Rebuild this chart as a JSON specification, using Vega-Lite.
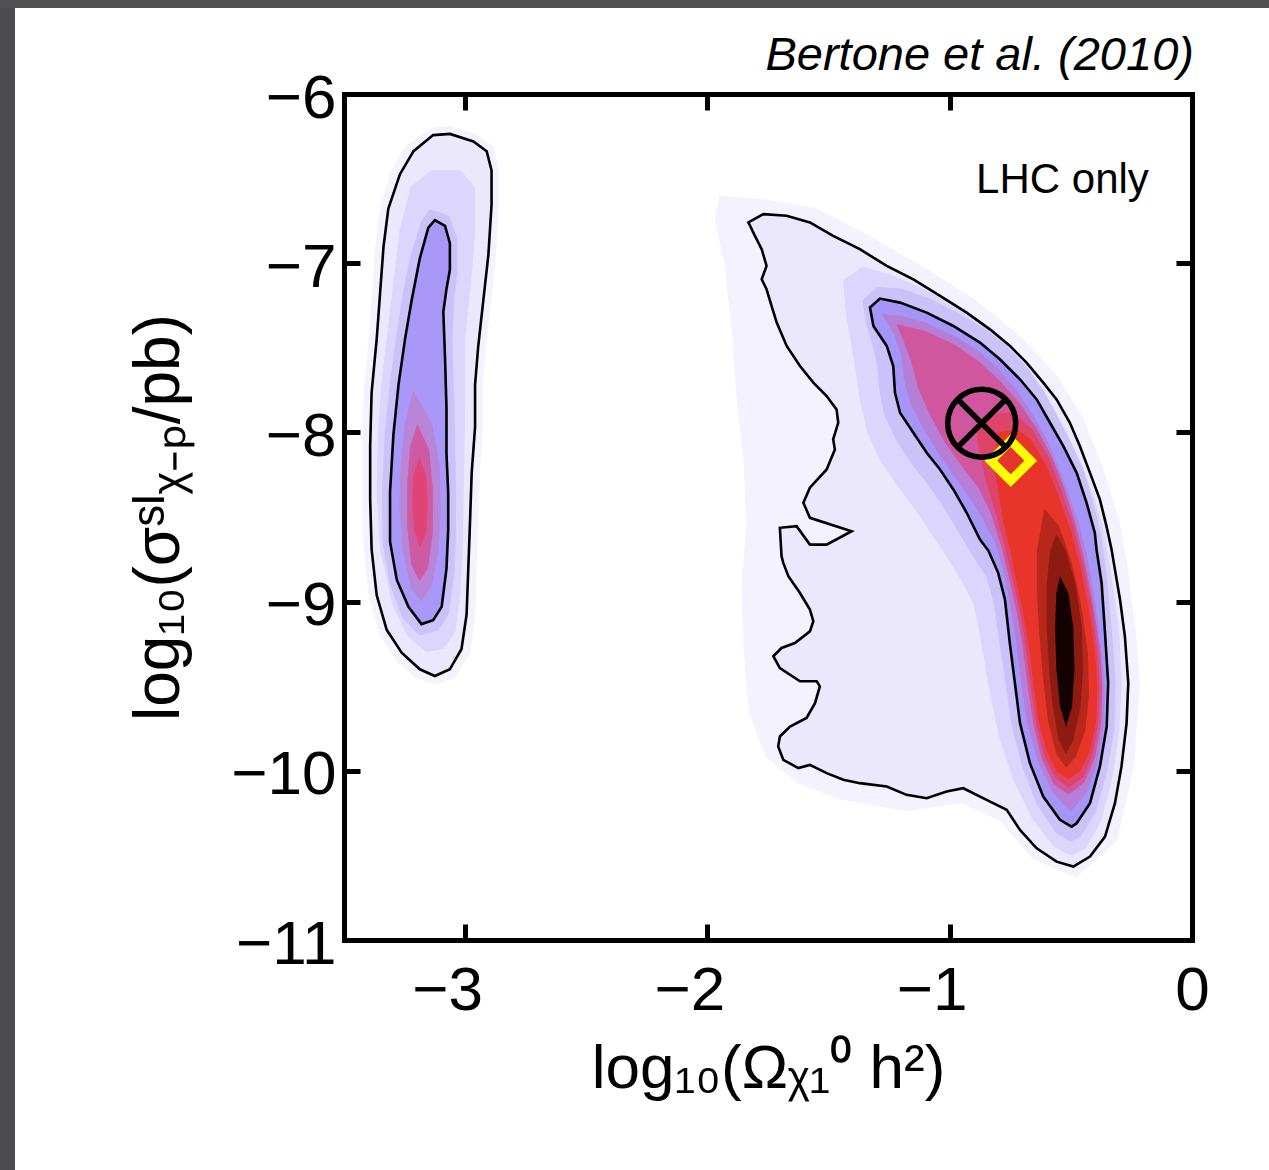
{
"$schema": "https://vega.github.io/schema/vega-lite/v6.json",
"width": 848, "height": 846,
"autosize": {"type": "none"},
"padding": {"left": 344, "top": 94, "right": 77, "bottom": 230},
"background": "white",
"config": {
  "view": {"stroke": null},
  "axis": {"domainColor": "black", "domainWidth": 5, "domainCap": "square", "tickColor": "black", "tickWidth": 5, "tickSize": -16, "labelColor": "black", "labelFont": "Liberation Sans", "labelFontSize": 62, "titleColor": "black", "titleFont": "Liberation Sans", "titleFontSize": 62, "titleFontWeight": "normal", "grid": false, "labelFlush": false, "labelOverlap": false, "labelBound": false}
},
"datasets": {
"poly": [
{"id":"L0","i":0,"x":-3.136,"y":-6.2},{"id":"L0","i":1,"x":-3.058,"y":-6.19},{"id":"L0","i":2,"x":-2.953,"y":-6.24},{"id":"L0","i":3,"x":-2.883,"y":-6.31},{"id":"L0","i":4,"x":-2.861,"y":-6.45},{"id":"L0","i":5,"x":-2.861,"y":-6.65},{"id":"L0","i":6,"x":-2.873,"y":-6.95},{"id":"L0","i":7,"x":-2.892,"y":-7.22},{"id":"L0","i":8,"x":-2.914,"y":-7.5},{"id":"L0","i":9,"x":-2.927,"y":-7.72},{"id":"L0","i":10,"x":-2.927,"y":-7.97},{"id":"L0","i":11,"x":-2.94,"y":-8.24},{"id":"L0","i":12,"x":-2.946,"y":-8.53},{"id":"L0","i":13,"x":-2.953,"y":-8.8},{"id":"L0","i":14,"x":-2.957,"y":-9.08},{"id":"L0","i":15,"x":-2.979,"y":-9.3},{"id":"L0","i":16,"x":-3.04,"y":-9.45},{"id":"L0","i":17,"x":-3.127,"y":-9.49},{"id":"L0","i":18,"x":-3.206,"y":-9.45},{"id":"L0","i":19,"x":-3.284,"y":-9.35},{"id":"L0","i":20,"x":-3.354,"y":-9.19},{"id":"L0","i":21,"x":-3.398,"y":-8.97},{"id":"L0","i":22,"x":-3.419,"y":-8.69},{"id":"L0","i":23,"x":-3.425,"y":-8.4},{"id":"L0","i":24,"x":-3.425,"y":-8.08},{"id":"L0","i":25,"x":-3.419,"y":-7.76},{"id":"L0","i":26,"x":-3.398,"y":-7.44},{"id":"L0","i":27,"x":-3.384,"y":-7.17},{"id":"L0","i":28,"x":-3.371,"y":-6.9},{"id":"L0","i":29,"x":-3.35,"y":-6.66},{"id":"L0","i":30,"x":-3.302,"y":-6.44},{"id":"L0","i":31,"x":-3.241,"y":-6.3},
{"id":"R0","i":0,"x":-1.95,"y":-6.6},{"id":"R0","i":1,"x":-1.78,"y":-6.62},{"id":"R0","i":2,"x":-1.56,"y":-6.67},{"id":"R0","i":3,"x":-1.34,"y":-6.83},{"id":"R0","i":4,"x":-1.11,"y":-7.02},{"id":"R0","i":5,"x":-0.89,"y":-7.22},{"id":"R0","i":6,"x":-0.7,"y":-7.44},{"id":"R0","i":7,"x":-0.56,"y":-7.66},{"id":"R0","i":8,"x":-0.45,"y":-7.91},{"id":"R0","i":9,"x":-0.37,"y":-8.2},{"id":"R0","i":10,"x":-0.3,"y":-8.52},{"id":"R0","i":11,"x":-0.265,"y":-8.8},{"id":"R0","i":12,"x":-0.23,"y":-9.2},{"id":"R0","i":13,"x":-0.215,"y":-9.48},{"id":"R0","i":14,"x":-0.24,"y":-9.98},{"id":"R0","i":15,"x":-0.31,"y":-10.42},{"id":"R0","i":16,"x":-0.48,"y":-10.63},{"id":"R0","i":17,"x":-0.66,"y":-10.52},{"id":"R0","i":18,"x":-0.79,"y":-10.3},{"id":"R0","i":19,"x":-0.95,"y":-10.19},{"id":"R0","i":20,"x":-1.18,"y":-10.24},{"id":"R0","i":21,"x":-1.45,"y":-10.17},{"id":"R0","i":22,"x":-1.62,"y":-10.08},{"id":"R0","i":23,"x":-1.76,"y":-9.92},{"id":"R0","i":24,"x":-1.83,"y":-9.65},{"id":"R0","i":25,"x":-1.85,"y":-9.3},{"id":"R0","i":26,"x":-1.86,"y":-8.9},{"id":"R0","i":27,"x":-1.84,"y":-8.55},{"id":"R0","i":28,"x":-1.85,"y":-8.2},{"id":"R0","i":29,"x":-1.88,"y":-7.8},{"id":"R0","i":30,"x":-1.9,"y":-7.4},{"id":"R0","i":31,"x":-1.93,"y":-7.0},{"id":"R0","i":32,"x":-1.97,"y":-6.75},
{"id":"L1","i":0,"x":-3.132,"y":-6.243},{"id":"L1","i":1,"x":-3.063,"y":-6.236},{"id":"L1","i":2,"x":-2.966,"y":-6.281},{"id":"L1","i":3,"x":-2.911,"y":-6.338},{"id":"L1","i":4,"x":-2.891,"y":-6.451},{"id":"L1","i":5,"x":-2.891,"y":-6.655},{"id":"L1","i":6,"x":-2.904,"y":-6.949},{"id":"L1","i":7,"x":-2.925,"y":-7.22},{"id":"L1","i":8,"x":-2.946,"y":-7.492},{"id":"L1","i":9,"x":-2.959,"y":-7.718},{"id":"L1","i":10,"x":-2.959,"y":-7.967},{"id":"L1","i":11,"x":-2.973,"y":-8.239},{"id":"L1","i":12,"x":-2.98,"y":-8.533},{"id":"L1","i":13,"x":-2.987,"y":-8.804},{"id":"L1","i":14,"x":-2.994,"y":-9.076},{"id":"L1","i":15,"x":-3.015,"y":-9.28},{"id":"L1","i":16,"x":-3.063,"y":-9.4},{"id":"L1","i":17,"x":-3.125,"y":-9.44},{"id":"L1","i":18,"x":-3.187,"y":-9.4},{"id":"L1","i":19,"x":-3.262,"y":-9.302},{"id":"L1","i":20,"x":-3.324,"y":-9.166},{"id":"L1","i":21,"x":-3.365,"y":-8.963},{"id":"L1","i":22,"x":-3.386,"y":-8.691},{"id":"L1","i":23,"x":-3.392,"y":-8.397},{"id":"L1","i":24,"x":-3.392,"y":-8.08},{"id":"L1","i":25,"x":-3.386,"y":-7.763},{"id":"L1","i":26,"x":-3.365,"y":-7.447},{"id":"L1","i":27,"x":-3.351,"y":-7.175},{"id":"L1","i":28,"x":-3.337,"y":-6.904},{"id":"L1","i":29,"x":-3.317,"y":-6.677},{"id":"L1","i":30,"x":-3.269,"y":-6.474},{"id":"L1","i":31,"x":-3.213,"y":-6.338},
{"id":"R1","i":0,"x":-1.831,"y":-6.759},{"id":"R1","i":1,"x":-1.769,"y":-6.71},{"id":"R1","i":2,"x":-1.673,"y":-6.72},{"id":"R1","i":3,"x":-1.577,"y":-6.759},{"id":"R1","i":4,"x":-1.481,"y":-6.838},{"id":"R1","i":5,"x":-1.371,"y":-6.917},{"id":"R1","i":6,"x":-1.26,"y":-7.016},{"id":"R1","i":7,"x":-1.15,"y":-7.095},{"id":"R1","i":8,"x":-1.04,"y":-7.193},{"id":"R1","i":9,"x":-0.93,"y":-7.292},{"id":"R1","i":10,"x":-0.834,"y":-7.391},{"id":"R1","i":11,"x":-0.751,"y":-7.489},{"id":"R1","i":12,"x":-0.683,"y":-7.588},{"id":"R1","i":13,"x":-0.614,"y":-7.706},{"id":"R1","i":14,"x":-0.559,"y":-7.805},{"id":"R1","i":15,"x":-0.504,"y":-7.943},{"id":"R1","i":16,"x":-0.463,"y":-8.081},{"id":"R1","i":17,"x":-0.421,"y":-8.239},{"id":"R1","i":18,"x":-0.38,"y":-8.397},{"id":"R1","i":19,"x":-0.353,"y":-8.554},{"id":"R1","i":20,"x":-0.332,"y":-8.692},{"id":"R1","i":21,"x":-0.318,"y":-8.811},{"id":"R1","i":22,"x":-0.297,"y":-8.988},{"id":"R1","i":23,"x":-0.277,"y":-9.205},{"id":"R1","i":24,"x":-0.263,"y":-9.481},{"id":"R1","i":25,"x":-0.27,"y":-9.718},{"id":"R1","i":26,"x":-0.291,"y":-9.974},{"id":"R1","i":27,"x":-0.318,"y":-10.191},{"id":"R1","i":28,"x":-0.359,"y":-10.389},{"id":"R1","i":29,"x":-0.421,"y":-10.507},{"id":"R1","i":30,"x":-0.49,"y":-10.566},{"id":"R1","i":31,"x":-0.559,"y":-10.537},{"id":"R1","i":32,"x":-0.641,"y":-10.458},{"id":"R1","i":33,"x":-0.71,"y":-10.349},{"id":"R1","i":34,"x":-0.765,"y":-10.231},{"id":"R1","i":35,"x":-0.848,"y":-10.172},{"id":"R1","i":36,"x":-0.944,"y":-10.103},{"id":"R1","i":37,"x":-1.013,"y":-10.122},{"id":"R1","i":38,"x":-1.095,"y":-10.162},{"id":"R1","i":39,"x":-1.178,"y":-10.142},{"id":"R1","i":40,"x":-1.26,"y":-10.093},{"id":"R1","i":41,"x":-1.371,"y":-10.073},{"id":"R1","i":42,"x":-1.439,"y":-10.053},{"id":"R1","i":43,"x":-1.508,"y":-10.014},{"id":"R1","i":44,"x":-1.577,"y":-9.965},{"id":"R1","i":45,"x":-1.625,"y":-9.984},{"id":"R1","i":46,"x":-1.687,"y":-9.935},{"id":"R1","i":47,"x":-1.708,"y":-9.856},{"id":"R1","i":48,"x":-1.701,"y":-9.797},{"id":"R1","i":49,"x":-1.659,"y":-9.738},{"id":"R1","i":50,"x":-1.591,"y":-9.688},{"id":"R1","i":51,"x":-1.556,"y":-9.6},{"id":"R1","i":52,"x":-1.536,"y":-9.501},{"id":"R1","i":53,"x":-1.549,"y":-9.471},{"id":"R1","i":54,"x":-1.618,"y":-9.471},{"id":"R1","i":55,"x":-1.701,"y":-9.393},{"id":"R1","i":56,"x":-1.728,"y":-9.323},{"id":"R1","i":57,"x":-1.694,"y":-9.274},{"id":"R1","i":58,"x":-1.639,"y":-9.245},{"id":"R1","i":59,"x":-1.577,"y":-9.176},{"id":"R1","i":60,"x":-1.563,"y":-9.116},{"id":"R1","i":61,"x":-1.577,"y":-9.047},{"id":"R1","i":62,"x":-1.618,"y":-8.949},{"id":"R1","i":63,"x":-1.666,"y":-8.85},{"id":"R1","i":64,"x":-1.687,"y":-8.771},{"id":"R1","i":65,"x":-1.694,"y":-8.732},{"id":"R1","i":66,"x":-1.701,"y":-8.564},{"id":"R1","i":67,"x":-1.632,"y":-8.554},{"id":"R1","i":68,"x":-1.577,"y":-8.663},{"id":"R1","i":69,"x":-1.508,"y":-8.663},{"id":"R1","i":70,"x":-1.405,"y":-8.584},{"id":"R1","i":71,"x":-1.577,"y":-8.505},{"id":"R1","i":72,"x":-1.604,"y":-8.416},{"id":"R1","i":73,"x":-1.577,"y":-8.327},{"id":"R1","i":74,"x":-1.508,"y":-8.219},{"id":"R1","i":75,"x":-1.474,"y":-8.101},{"id":"R1","i":76,"x":-1.481,"y":-8.041},{"id":"R1","i":77,"x":-1.46,"y":-7.943},{"id":"R1","i":78,"x":-1.467,"y":-7.864},{"id":"R1","i":79,"x":-1.508,"y":-7.785},{"id":"R1","i":80,"x":-1.563,"y":-7.706},{"id":"R1","i":81,"x":-1.618,"y":-7.608},{"id":"R1","i":82,"x":-1.673,"y":-7.489},{"id":"R1","i":83,"x":-1.714,"y":-7.351},{"id":"R1","i":84,"x":-1.735,"y":-7.253},{"id":"R1","i":85,"x":-1.756,"y":-7.154},{"id":"R1","i":86,"x":-1.776,"y":-7.095},{"id":"R1","i":87,"x":-1.756,"y":-7.016},{"id":"R1","i":88,"x":-1.776,"y":-6.917},{"id":"R1","i":89,"x":-1.804,"y":-6.838},{"id":"R1","i":90,"x":-1.824,"y":-6.779},
{"id":"L1b","i":0,"x":-3.14,"y":-6.45},{"id":"L1b","i":1,"x":-3.02,"y":-6.45},{"id":"L1b","i":2,"x":-2.96,"y":-6.55},{"id":"L1b","i":3,"x":-2.96,"y":-6.85},{"id":"L1b","i":4,"x":-2.975,"y":-7.1},{"id":"L1b","i":5,"x":-3.0,"y":-7.45},{"id":"L1b","i":6,"x":-3.0,"y":-7.85},{"id":"L1b","i":7,"x":-3.005,"y":-8.3},{"id":"L1b","i":8,"x":-3.01,"y":-8.7},{"id":"L1b","i":9,"x":-3.02,"y":-8.95},{"id":"L1b","i":10,"x":-3.04,"y":-9.18},{"id":"L1b","i":11,"x":-3.09,"y":-9.28},{"id":"L1b","i":12,"x":-3.16,"y":-9.3},{"id":"L1b","i":13,"x":-3.24,"y":-9.2},{"id":"L1b","i":14,"x":-3.3,"y":-9.02},{"id":"L1b","i":15,"x":-3.35,"y":-8.7},{"id":"L1b","i":16,"x":-3.365,"y":-8.35},{"id":"L1b","i":17,"x":-3.36,"y":-8.0},{"id":"L1b","i":18,"x":-3.345,"y":-7.7},{"id":"L1b","i":19,"x":-3.32,"y":-7.4},{"id":"L1b","i":20,"x":-3.295,"y":-7.1},{"id":"L1b","i":21,"x":-3.27,"y":-6.8},{"id":"L1b","i":22,"x":-3.225,"y":-6.55},
{"id":"R1b","i":0,"x":-1.44,"y":-7.1},{"id":"R1b","i":1,"x":-1.36,"y":-7.02},{"id":"R1b","i":2,"x":-1.24,"y":-7.07},{"id":"R1b","i":3,"x":-1.11,"y":-7.15},{"id":"R1b","i":4,"x":-0.99,"y":-7.25},{"id":"R1b","i":5,"x":-0.87,"y":-7.36},{"id":"R1b","i":6,"x":-0.78,"y":-7.46},{"id":"R1b","i":7,"x":-0.69,"y":-7.59},{"id":"R1b","i":8,"x":-0.625,"y":-7.72},{"id":"R1b","i":9,"x":-0.57,"y":-7.86},{"id":"R1b","i":10,"x":-0.515,"y":-8.02},{"id":"R1b","i":11,"x":-0.455,"y":-8.19},{"id":"R1b","i":12,"x":-0.4,"y":-8.4},{"id":"R1b","i":13,"x":-0.36,"y":-8.6},{"id":"R1b","i":14,"x":-0.33,"y":-8.87},{"id":"R1b","i":15,"x":-0.3,"y":-9.18},{"id":"R1b","i":16,"x":-0.29,"y":-9.48},{"id":"R1b","i":17,"x":-0.3,"y":-9.76},{"id":"R1b","i":18,"x":-0.325,"y":-10.02},{"id":"R1b","i":19,"x":-0.375,"y":-10.3},{"id":"R1b","i":20,"x":-0.44,"y":-10.46},{"id":"R1b","i":21,"x":-0.5,"y":-10.5},{"id":"R1b","i":22,"x":-0.57,"y":-10.45},{"id":"R1b","i":23,"x":-0.66,"y":-10.28},{"id":"R1b","i":24,"x":-0.74,"y":-10.05},{"id":"R1b","i":25,"x":-0.8,"y":-9.78},{"id":"R1b","i":26,"x":-0.84,"y":-9.5},{"id":"R1b","i":27,"x":-0.87,"y":-9.24},{"id":"R1b","i":28,"x":-0.9,"y":-9.02},{"id":"R1b","i":29,"x":-0.95,"y":-8.88},{"id":"R1b","i":30,"x":-1.02,"y":-8.72},{"id":"R1b","i":31,"x":-1.09,"y":-8.57},{"id":"R1b","i":32,"x":-1.15,"y":-8.44},{"id":"R1b","i":33,"x":-1.22,"y":-8.31},{"id":"R1b","i":34,"x":-1.29,"y":-8.16},{"id":"R1b","i":35,"x":-1.34,"y":-8.0},{"id":"R1b","i":36,"x":-1.37,"y":-7.82},{"id":"R1b","i":37,"x":-1.39,"y":-7.62},{"id":"R1b","i":38,"x":-1.41,"y":-7.45},{"id":"R1b","i":39,"x":-1.43,"y":-7.28},
{"id":"L2","i":0,"x":-3.145,"y":-6.68},{"id":"L2","i":1,"x":-3.066,"y":-6.72},{"id":"L2","i":2,"x":-3.031,"y":-6.86},{"id":"L2","i":3,"x":-3.031,"y":-7.05},{"id":"L2","i":4,"x":-3.044,"y":-7.2},{"id":"L2","i":5,"x":-3.053,"y":-7.45},{"id":"L2","i":6,"x":-3.044,"y":-7.85},{"id":"L2","i":7,"x":-3.038,"y":-8.35},{"id":"L2","i":8,"x":-3.038,"y":-8.6},{"id":"L2","i":9,"x":-3.044,"y":-8.82},{"id":"L2","i":10,"x":-3.066,"y":-9.07},{"id":"L2","i":11,"x":-3.11,"y":-9.17},{"id":"L2","i":12,"x":-3.188,"y":-9.2},{"id":"L2","i":13,"x":-3.258,"y":-9.1},{"id":"L2","i":14,"x":-3.31,"y":-8.9},{"id":"L2","i":15,"x":-3.341,"y":-8.65},{"id":"L2","i":16,"x":-3.343,"y":-8.35},{"id":"L2","i":17,"x":-3.332,"y":-8.0},{"id":"L2","i":18,"x":-3.31,"y":-7.7},{"id":"L2","i":19,"x":-3.284,"y":-7.43},{"id":"L2","i":20,"x":-3.258,"y":-7.18},{"id":"L2","i":21,"x":-3.223,"y":-6.94},{"id":"L2","i":22,"x":-3.18,"y":-6.75},
{"id":"R2","i":0,"x":-1.36,"y":-7.22},{"id":"R2","i":1,"x":-1.3,"y":-7.14},{"id":"R2","i":2,"x":-1.2,"y":-7.15},{"id":"R2","i":3,"x":-1.08,"y":-7.21},{"id":"R2","i":4,"x":-0.97,"y":-7.29},{"id":"R2","i":5,"x":-0.85,"y":-7.39},{"id":"R2","i":6,"x":-0.765,"y":-7.49},{"id":"R2","i":7,"x":-0.68,"y":-7.62},{"id":"R2","i":8,"x":-0.615,"y":-7.75},{"id":"R2","i":9,"x":-0.56,"y":-7.89},{"id":"R2","i":10,"x":-0.505,"y":-8.04},{"id":"R2","i":11,"x":-0.45,"y":-8.21},{"id":"R2","i":12,"x":-0.41,"y":-8.4},{"id":"R2","i":13,"x":-0.375,"y":-8.6},{"id":"R2","i":14,"x":-0.35,"y":-8.87},{"id":"R2","i":15,"x":-0.33,"y":-9.18},{"id":"R2","i":16,"x":-0.315,"y":-9.48},{"id":"R2","i":17,"x":-0.32,"y":-9.75},{"id":"R2","i":18,"x":-0.35,"y":-10.0},{"id":"R2","i":19,"x":-0.395,"y":-10.24},{"id":"R2","i":20,"x":-0.46,"y":-10.39},{"id":"R2","i":21,"x":-0.5,"y":-10.42},{"id":"R2","i":22,"x":-0.56,"y":-10.37},{"id":"R2","i":23,"x":-0.64,"y":-10.2},{"id":"R2","i":24,"x":-0.7,"y":-9.98},{"id":"R2","i":25,"x":-0.745,"y":-9.73},{"id":"R2","i":26,"x":-0.77,"y":-9.48},{"id":"R2","i":27,"x":-0.795,"y":-9.24},{"id":"R2","i":28,"x":-0.82,"y":-9.0},{"id":"R2","i":29,"x":-0.85,"y":-8.85},{"id":"R2","i":30,"x":-0.91,"y":-8.72},{"id":"R2","i":31,"x":-0.98,"y":-8.55},{"id":"R2","i":32,"x":-1.04,"y":-8.41},{"id":"R2","i":33,"x":-1.1,"y":-8.29},{"id":"R2","i":34,"x":-1.16,"y":-8.18},{"id":"R2","i":35,"x":-1.22,"y":-8.05},{"id":"R2","i":36,"x":-1.27,"y":-7.9},{"id":"R2","i":37,"x":-1.29,"y":-7.76},{"id":"R2","i":38,"x":-1.3,"y":-7.6},{"id":"R2","i":39,"x":-1.32,"y":-7.48},{"id":"R2","i":40,"x":-1.345,"y":-7.36},
{"id":"L3","i":0,"x":-3.125,"y":-6.745},{"id":"L3","i":1,"x":-3.083,"y":-6.779},{"id":"L3","i":2,"x":-3.063,"y":-6.881},{"id":"L3","i":3,"x":-3.063,"y":-7.039},{"id":"L3","i":4,"x":-3.077,"y":-7.152},{"id":"L3","i":5,"x":-3.09,"y":-7.288},{"id":"L3","i":6,"x":-3.083,"y":-7.56},{"id":"L3","i":7,"x":-3.077,"y":-7.854},{"id":"L3","i":8,"x":-3.077,"y":-8.126},{"id":"L3","i":9,"x":-3.07,"y":-8.352},{"id":"L3","i":10,"x":-3.07,"y":-8.578},{"id":"L3","i":11,"x":-3.077,"y":-8.805},{"id":"L3","i":12,"x":-3.097,"y":-9.031},{"id":"L3","i":13,"x":-3.132,"y":-9.11},{"id":"L3","i":14,"x":-3.18,"y":-9.133},{"id":"L3","i":15,"x":-3.234,"y":-9.031},{"id":"L3","i":16,"x":-3.282,"y":-8.872},{"id":"L3","i":17,"x":-3.31,"y":-8.646},{"id":"L3","i":18,"x":-3.31,"y":-8.352},{"id":"L3","i":19,"x":-3.296,"y":-8.012},{"id":"L3","i":20,"x":-3.275,"y":-7.718},{"id":"L3","i":21,"x":-3.248,"y":-7.447},{"id":"L3","i":22,"x":-3.221,"y":-7.22},{"id":"L3","i":23,"x":-3.187,"y":-6.971},{"id":"L3","i":24,"x":-3.152,"y":-6.79},
{"id":"R3","i":0,"x":-1.329,"y":-7.262},{"id":"R3","i":1,"x":-1.288,"y":-7.209},{"id":"R3","i":2,"x":-1.205,"y":-7.233},{"id":"R3","i":3,"x":-1.095,"y":-7.292},{"id":"R3","i":4,"x":-0.985,"y":-7.371},{"id":"R3","i":5,"x":-0.875,"y":-7.469},{"id":"R3","i":6,"x":-0.793,"y":-7.568},{"id":"R3","i":7,"x":-0.71,"y":-7.686},{"id":"R3","i":8,"x":-0.641,"y":-7.805},{"id":"R3","i":9,"x":-0.586,"y":-7.943},{"id":"R3","i":10,"x":-0.531,"y":-8.081},{"id":"R3","i":11,"x":-0.476,"y":-8.239},{"id":"R3","i":12,"x":-0.435,"y":-8.416},{"id":"R3","i":13,"x":-0.401,"y":-8.594},{"id":"R3","i":14,"x":-0.394,"y":-8.692},{"id":"R3","i":15,"x":-0.373,"y":-8.89},{"id":"R3","i":16,"x":-0.359,"y":-9.185},{"id":"R3","i":17,"x":-0.346,"y":-9.481},{"id":"R3","i":18,"x":-0.352,"y":-9.738},{"id":"R3","i":19,"x":-0.38,"y":-9.974},{"id":"R3","i":20,"x":-0.421,"y":-10.191},{"id":"R3","i":21,"x":-0.476,"y":-10.31},{"id":"R3","i":22,"x":-0.497,"y":-10.33},{"id":"R3","i":23,"x":-0.545,"y":-10.29},{"id":"R3","i":24,"x":-0.614,"y":-10.152},{"id":"R3","i":25,"x":-0.669,"y":-9.955},{"id":"R3","i":26,"x":-0.71,"y":-9.718},{"id":"R3","i":27,"x":-0.731,"y":-9.481},{"id":"R3","i":28,"x":-0.752,"y":-9.245},{"id":"R3","i":29,"x":-0.772,"y":-8.988},{"id":"R3","i":30,"x":-0.8,"y":-8.83},{"id":"R3","i":31,"x":-0.84,"y":-8.7},{"id":"R3","i":32,"x":-0.875,"y":-8.633},{"id":"R3","i":33,"x":-0.93,"y":-8.475},{"id":"R3","i":34,"x":-0.985,"y":-8.337},{"id":"R3","i":35,"x":-1.04,"y":-8.219},{"id":"R3","i":36,"x":-1.095,"y":-8.12},{"id":"R3","i":37,"x":-1.15,"y":-8.002},{"id":"R3","i":38,"x":-1.205,"y":-7.884},{"id":"R3","i":39,"x":-1.226,"y":-7.765},{"id":"R3","i":40,"x":-1.233,"y":-7.608},{"id":"R3","i":41,"x":-1.26,"y":-7.489},{"id":"R3","i":42,"x":-1.315,"y":-7.371},
{"id":"L4","i":0,"x":-3.214,"y":-7.75},{"id":"L4","i":1,"x":-3.136,"y":-7.95},{"id":"L4","i":2,"x":-3.105,"y":-8.2},{"id":"L4","i":3,"x":-3.101,"y":-8.45},{"id":"L4","i":4,"x":-3.11,"y":-8.7},{"id":"L4","i":5,"x":-3.136,"y":-8.9},{"id":"L4","i":6,"x":-3.18,"y":-9.0},{"id":"L4","i":7,"x":-3.223,"y":-8.92},{"id":"L4","i":8,"x":-3.258,"y":-8.7},{"id":"L4","i":9,"x":-3.271,"y":-8.45},{"id":"L4","i":10,"x":-3.267,"y":-8.2},{"id":"L4","i":11,"x":-3.249,"y":-7.95},
{"id":"R4","i":0,"x":-1.28,"y":-7.3},{"id":"R4","i":1,"x":-1.2,"y":-7.31},{"id":"R4","i":2,"x":-1.1,"y":-7.35},{"id":"R4","i":3,"x":-0.98,"y":-7.43},{"id":"R4","i":4,"x":-0.88,"y":-7.52},{"id":"R4","i":5,"x":-0.795,"y":-7.63},{"id":"R4","i":6,"x":-0.72,"y":-7.76},{"id":"R4","i":7,"x":-0.655,"y":-7.9},{"id":"R4","i":8,"x":-0.6,"y":-8.04},{"id":"R4","i":9,"x":-0.555,"y":-8.19},{"id":"R4","i":10,"x":-0.51,"y":-8.36},{"id":"R4","i":11,"x":-0.465,"y":-8.55},{"id":"R4","i":12,"x":-0.43,"y":-8.75},{"id":"R4","i":13,"x":-0.4,"y":-9.0},{"id":"R4","i":14,"x":-0.375,"y":-9.28},{"id":"R4","i":15,"x":-0.36,"y":-9.5},{"id":"R4","i":16,"x":-0.365,"y":-9.73},{"id":"R4","i":17,"x":-0.39,"y":-9.95},{"id":"R4","i":18,"x":-0.435,"y":-10.13},{"id":"R4","i":19,"x":-0.5,"y":-10.24},{"id":"R4","i":20,"x":-0.57,"y":-10.14},{"id":"R4","i":21,"x":-0.635,"y":-9.95},{"id":"R4","i":22,"x":-0.68,"y":-9.72},{"id":"R4","i":23,"x":-0.705,"y":-9.48},{"id":"R4","i":24,"x":-0.725,"y":-9.25},{"id":"R4","i":25,"x":-0.75,"y":-9.02},{"id":"R4","i":26,"x":-0.775,"y":-8.84},{"id":"R4","i":27,"x":-0.81,"y":-8.66},{"id":"R4","i":28,"x":-0.86,"y":-8.52},{"id":"R4","i":29,"x":-0.92,"y":-8.38},{"id":"R4","i":30,"x":-0.98,"y":-8.26},{"id":"R4","i":31,"x":-1.04,"y":-8.14},{"id":"R4","i":32,"x":-1.1,"y":-8.0},{"id":"R4","i":33,"x":-1.16,"y":-7.84},{"id":"R4","i":34,"x":-1.19,"y":-7.68},{"id":"R4","i":35,"x":-1.2,"y":-7.54},{"id":"R4","i":36,"x":-1.23,"y":-7.42},
{"id":"L5","i":0,"x":-3.197,"y":-7.95},{"id":"L5","i":1,"x":-3.149,"y":-8.1},{"id":"L5","i":2,"x":-3.132,"y":-8.35},{"id":"L5","i":3,"x":-3.134,"y":-8.6},{"id":"L5","i":4,"x":-3.153,"y":-8.8},{"id":"L5","i":5,"x":-3.188,"y":-8.88},{"id":"L5","i":6,"x":-3.223,"y":-8.78},{"id":"L5","i":7,"x":-3.239,"y":-8.55},{"id":"L5","i":8,"x":-3.239,"y":-8.3},{"id":"L5","i":9,"x":-3.227,"y":-8.08},
{"id":"R5","i":0,"x":-1.22,"y":-7.36},{"id":"R5","i":1,"x":-1.1,"y":-7.4},{"id":"R5","i":2,"x":-0.98,"y":-7.48},{"id":"R5","i":3,"x":-0.88,"y":-7.58},{"id":"R5","i":4,"x":-0.79,"y":-7.7},{"id":"R5","i":5,"x":-0.71,"y":-7.83},{"id":"R5","i":6,"x":-0.64,"y":-7.98},{"id":"R5","i":7,"x":-0.58,"y":-8.14},{"id":"R5","i":8,"x":-0.53,"y":-8.32},{"id":"R5","i":9,"x":-0.485,"y":-8.52},{"id":"R5","i":10,"x":-0.445,"y":-8.75},{"id":"R5","i":11,"x":-0.41,"y":-9.0},{"id":"R5","i":12,"x":-0.38,"y":-9.28},{"id":"R5","i":13,"x":-0.37,"y":-9.5},{"id":"R5","i":14,"x":-0.375,"y":-9.72},{"id":"R5","i":15,"x":-0.4,"y":-9.92},{"id":"R5","i":16,"x":-0.445,"y":-10.07},{"id":"R5","i":17,"x":-0.51,"y":-10.14},{"id":"R5","i":18,"x":-0.57,"y":-10.08},{"id":"R5","i":19,"x":-0.62,"y":-9.93},{"id":"R5","i":20,"x":-0.655,"y":-9.72},{"id":"R5","i":21,"x":-0.68,"y":-9.48},{"id":"R5","i":22,"x":-0.7,"y":-9.25},{"id":"R5","i":23,"x":-0.725,"y":-9.05},{"id":"R5","i":24,"x":-0.755,"y":-8.86},{"id":"R5","i":25,"x":-0.79,"y":-8.66},{"id":"R5","i":26,"x":-0.83,"y":-8.48},{"id":"R5","i":27,"x":-0.88,"y":-8.33},{"id":"R5","i":28,"x":-0.95,"y":-8.2},{"id":"R5","i":29,"x":-1.02,"y":-8.06},{"id":"R5","i":30,"x":-1.08,"y":-7.9},{"id":"R5","i":31,"x":-1.13,"y":-7.74},{"id":"R5","i":32,"x":-1.16,"y":-7.58},{"id":"R5","i":33,"x":-1.19,"y":-7.46},
{"id":"L6","i":0,"x":-3.188,"y":-8.15},{"id":"L6","i":1,"x":-3.162,"y":-8.25},{"id":"L6","i":2,"x":-3.153,"y":-8.42},{"id":"L6","i":3,"x":-3.162,"y":-8.6},{"id":"L6","i":4,"x":-3.188,"y":-8.68},{"id":"L6","i":5,"x":-3.21,"y":-8.58},{"id":"L6","i":6,"x":-3.219,"y":-8.42},{"id":"L6","i":7,"x":-3.214,"y":-8.25},
{"id":"R5b","i":0,"x":-0.86,"y":-7.9},{"id":"R5b","i":1,"x":-0.74,"y":-7.88},{"id":"R5b","i":2,"x":-0.66,"y":-7.98},{"id":"R5b","i":3,"x":-0.59,"y":-8.15},{"id":"R5b","i":4,"x":-0.54,"y":-8.34},{"id":"R5b","i":5,"x":-0.49,"y":-8.55},{"id":"R5b","i":6,"x":-0.45,"y":-8.78},{"id":"R5b","i":7,"x":-0.415,"y":-9.02},{"id":"R5b","i":8,"x":-0.39,"y":-9.29},{"id":"R5b","i":9,"x":-0.38,"y":-9.5},{"id":"R5b","i":10,"x":-0.385,"y":-9.71},{"id":"R5b","i":11,"x":-0.41,"y":-9.9},{"id":"R5b","i":12,"x":-0.45,"y":-10.04},{"id":"R5b","i":13,"x":-0.51,"y":-10.1},{"id":"R5b","i":14,"x":-0.565,"y":-10.04},{"id":"R5b","i":15,"x":-0.61,"y":-9.91},{"id":"R5b","i":16,"x":-0.645,"y":-9.71},{"id":"R5b","i":17,"x":-0.668,"y":-9.48},{"id":"R5b","i":18,"x":-0.688,"y":-9.25},{"id":"R5b","i":19,"x":-0.712,"y":-9.05},{"id":"R5b","i":20,"x":-0.74,"y":-8.87},{"id":"R5b","i":21,"x":-0.77,"y":-8.69},{"id":"R5b","i":22,"x":-0.805,"y":-8.5},{"id":"R5b","i":23,"x":-0.84,"y":-8.34},{"id":"R5b","i":24,"x":-0.87,"y":-8.18},{"id":"R5b","i":25,"x":-0.89,"y":-8.02},
{"id":"R6","i":0,"x":-0.8,"y":-8.0},{"id":"R6","i":1,"x":-0.72,"y":-7.98},{"id":"R6","i":2,"x":-0.66,"y":-8.05},{"id":"R6","i":3,"x":-0.6,"y":-8.2},{"id":"R6","i":4,"x":-0.55,"y":-8.38},{"id":"R6","i":5,"x":-0.5,"y":-8.58},{"id":"R6","i":6,"x":-0.46,"y":-8.8},{"id":"R6","i":7,"x":-0.425,"y":-9.05},{"id":"R6","i":8,"x":-0.4,"y":-9.3},{"id":"R6","i":9,"x":-0.39,"y":-9.5},{"id":"R6","i":10,"x":-0.395,"y":-9.7},{"id":"R6","i":11,"x":-0.42,"y":-9.88},{"id":"R6","i":12,"x":-0.46,"y":-10.0},{"id":"R6","i":13,"x":-0.51,"y":-10.05},{"id":"R6","i":14,"x":-0.56,"y":-10.0},{"id":"R6","i":15,"x":-0.6,"y":-9.88},{"id":"R6","i":16,"x":-0.635,"y":-9.7},{"id":"R6","i":17,"x":-0.655,"y":-9.48},{"id":"R6","i":18,"x":-0.675,"y":-9.25},{"id":"R6","i":19,"x":-0.7,"y":-9.05},{"id":"R6","i":20,"x":-0.725,"y":-8.88},{"id":"R6","i":21,"x":-0.75,"y":-8.7},{"id":"R6","i":22,"x":-0.78,"y":-8.52},{"id":"R6","i":23,"x":-0.8,"y":-8.34},{"id":"R6","i":24,"x":-0.82,"y":-8.18},
{"id":"R6b","i":0,"x":-0.61,"y":-8.45},{"id":"R6b","i":1,"x":-0.55,"y":-8.55},{"id":"R6b","i":2,"x":-0.5,"y":-8.75},{"id":"R6b","i":3,"x":-0.46,"y":-9.0},{"id":"R6b","i":4,"x":-0.43,"y":-9.3},{"id":"R6b","i":5,"x":-0.425,"y":-9.55},{"id":"R6b","i":6,"x":-0.44,"y":-9.76},{"id":"R6b","i":7,"x":-0.48,"y":-9.92},{"id":"R6b","i":8,"x":-0.52,"y":-9.98},{"id":"R6b","i":9,"x":-0.56,"y":-9.9},{"id":"R6b","i":10,"x":-0.595,"y":-9.7},{"id":"R6b","i":11,"x":-0.615,"y":-9.45},{"id":"R6b","i":12,"x":-0.63,"y":-9.2},{"id":"R6b","i":13,"x":-0.64,"y":-8.95},{"id":"R6b","i":14,"x":-0.64,"y":-8.7},
{"id":"R7","i":0,"x":-0.56,"y":-8.6},{"id":"R7","i":1,"x":-0.52,"y":-8.7},{"id":"R7","i":2,"x":-0.48,"y":-8.9},{"id":"R7","i":3,"x":-0.455,"y":-9.15},{"id":"R7","i":4,"x":-0.45,"y":-9.4},{"id":"R7","i":5,"x":-0.46,"y":-9.62},{"id":"R7","i":6,"x":-0.49,"y":-9.82},{"id":"R7","i":7,"x":-0.52,"y":-9.9},{"id":"R7","i":8,"x":-0.55,"y":-9.82},{"id":"R7","i":9,"x":-0.575,"y":-9.62},{"id":"R7","i":10,"x":-0.59,"y":-9.4},{"id":"R7","i":11,"x":-0.6,"y":-9.15},{"id":"R7","i":12,"x":-0.6,"y":-8.9},{"id":"R7","i":13,"x":-0.585,"y":-8.7},
{"id":"R8","i":0,"x":-0.545,"y":-8.85},{"id":"R8","i":1,"x":-0.51,"y":-8.95},{"id":"R8","i":2,"x":-0.49,"y":-9.15},{"id":"R8","i":3,"x":-0.485,"y":-9.4},{"id":"R8","i":4,"x":-0.495,"y":-9.62},{"id":"R8","i":5,"x":-0.52,"y":-9.74},{"id":"R8","i":6,"x":-0.545,"y":-9.62},{"id":"R8","i":7,"x":-0.56,"y":-9.4},{"id":"R8","i":8,"x":-0.565,"y":-9.15},{"id":"R8","i":9,"x":-0.56,"y":-8.95}
]
},
"layer": [
{
  "data": {"values": [{}]},
  "mark": {"type": "rect", "color": "#4c4c4e"},
  "encoding": {
    "x": {"datum": -5.0, "type": "quantitative", "scale": {"domain": [-3.5, 0], "nice": false, "zero": false}, "axis": null},
    "x2": {"datum": -4.858},
    "y": {"datum": -5.4, "type": "quantitative", "scale": {"domain": [-11, -6], "nice": false, "zero": false}, "axis": null},
    "y2": {"datum": -12.6}
  }
},
{
  "data": {"values": [{}]},
  "mark": {"type": "rect", "color": "#505052"},
  "encoding": {
    "x": {"datum": -5.0, "type": "quantitative", "axis": null},
    "x2": {"datum": 0.6},
    "y": {"datum": -5.4, "type": "quantitative", "axis": null},
    "y2": {"datum": -5.4917}
  }
},
{
  "data": {"name": "poly"},
  "mark": {"type": "line", "interpolate": "linear-closed", "strokeWidth": 0, "strokeOpacity": 0},
  "encoding": {
    "x": {"field": "x", "type": "quantitative", "scale": {"domain": [-3.5, 0], "nice": false, "zero": false},
      "axis": {"orient": "bottom", "zindex": 1, "values": [-3, -2, -1, 0], "format": "d", "labelPadding": 36, "labelOffset": {"condition": {"test": "datum.value < 0", "value": -18}, "value": 0}, "title": "log₁₀(Ωᵪ₁⁰ h²)", "titleY": 147, "titleBaseline": "alphabetic"}},
    "y": {"field": "y", "type": "quantitative", "scale": {"domain": [-11, -6], "nice": false, "zero": false},
      "axis": {"orient": "left", "zindex": 1, "values": [-11, -10, -9, -8, -7, -6], "format": "d", "labelPadding": 24, "labelOffset": 4, "title": "log₁₀(σˢᴵᵪ₋ₚ/pb)", "titleX": -166, "titleBaseline": "alphabetic", "titleAngle": -90, "titleFontSize": 64}},
    "fill": {"field": "id", "type": "nominal", "legend": null,
      "scale": {"domain": ["L0","R0","L1","R1","L1b","R1b","L2","R2","L3","R3","L4","R4","L5","R5","L6","R5b","R6","R6b","R7","R8"],
                "range": ["#f4f2fe","#f4f2fe","#ebe8fd","#ebe8fd","#dcd5fc","#ddd6fc","#cbc2fa","#cbc2fa","#a998f7","#a595f6","#b985d9","#b67ed6","#cd5aa2","#d0569e","#e04474","#de4468","#e8352b","#b8281a","#8e1b12","#140202"]}},
    "detail": {"field": "id"},
    "order": {"field": "i", "type": "quantitative"}
  }
},
{
  "data": {"name": "poly"},
  "transform": [{"filter": {"field": "id", "oneOf": ["L1", "L3", "R1", "R3"]}}],
  "mark": {"type": "line", "interpolate": "linear-closed", "color": "black", "strokeWidth": 2.6},
  "encoding": {
    "x": {"field": "x", "type": "quantitative", "scale": {"domain": [-3.5, 0], "nice": false, "zero": false},
      "axis": {"orient": "top", "zindex": 1, "values": [-3, -2, -1, 0], "labels": false, "title": null}},
    "y": {"field": "y", "type": "quantitative", "scale": {"domain": [-11, -6], "nice": false, "zero": false},
      "axis": {"orient": "right", "zindex": 1, "values": [-11, -10, -9, -8, -7, -6], "labels": false, "title": null}},
    "detail": {"field": "id"},
    "order": {"field": "i", "type": "quantitative"}
  }
},
{
  "data": {"values": [{"x": -0.748, "y": -8.167}]},
  "mark": {"type": "point", "shape": "diamond", "size": 1600, "filled": true, "fill": "#e8352b", "stroke": "#ffff00", "strokeWidth": 9, "opacity": 1},
  "encoding": {
    "x": {"field": "x", "type": "quantitative", "axis": null},
    "y": {"field": "y", "type": "quantitative", "axis": null}
  }
},
{
  "data": {"values": [{"x": -0.868, "y": -7.946}]},
  "mark": {"type": "point", "shape": "M1,0A1,1,0,1,1,-1,0A1,1,0,1,1,1,0ZM-0.7071,-0.7071L0.7071,0.7071M0.7071,-0.7071L-0.7071,0.7071", "size": 4624, "filled": false, "stroke": "black", "strokeWidth": 5.5, "opacity": 1},
  "encoding": {
    "x": {"field": "x", "type": "quantitative", "axis": null},
    "y": {"field": "y", "type": "quantitative", "axis": null}
  }
},
{
  "data": {"values": [{}]},
  "mark": {"type": "text", "text": "LHC only", "align": "right", "baseline": "alphabetic", "font": "Liberation Sans", "fontSize": 42, "color": "black"},
  "encoding": {
    "x": {"datum": -0.178, "type": "quantitative", "axis": null},
    "y": {"datum": -6.585, "type": "quantitative", "axis": null}
  }
},
{
  "data": {"values": [{}]},
  "mark": {"type": "text", "text": "Bertone et al. (2010)", "align": "right", "baseline": "alphabetic", "font": "Liberation Sans", "fontStyle": "italic", "fontSize": 47, "color": "black"},
  "encoding": {
    "x": {"datum": 0.008, "type": "quantitative", "axis": null},
    "y": {"datum": -5.858, "type": "quantitative", "axis": null}
  }
}
],
"resolve": {"axis": {"x": "independent", "y": "independent"}}
}
